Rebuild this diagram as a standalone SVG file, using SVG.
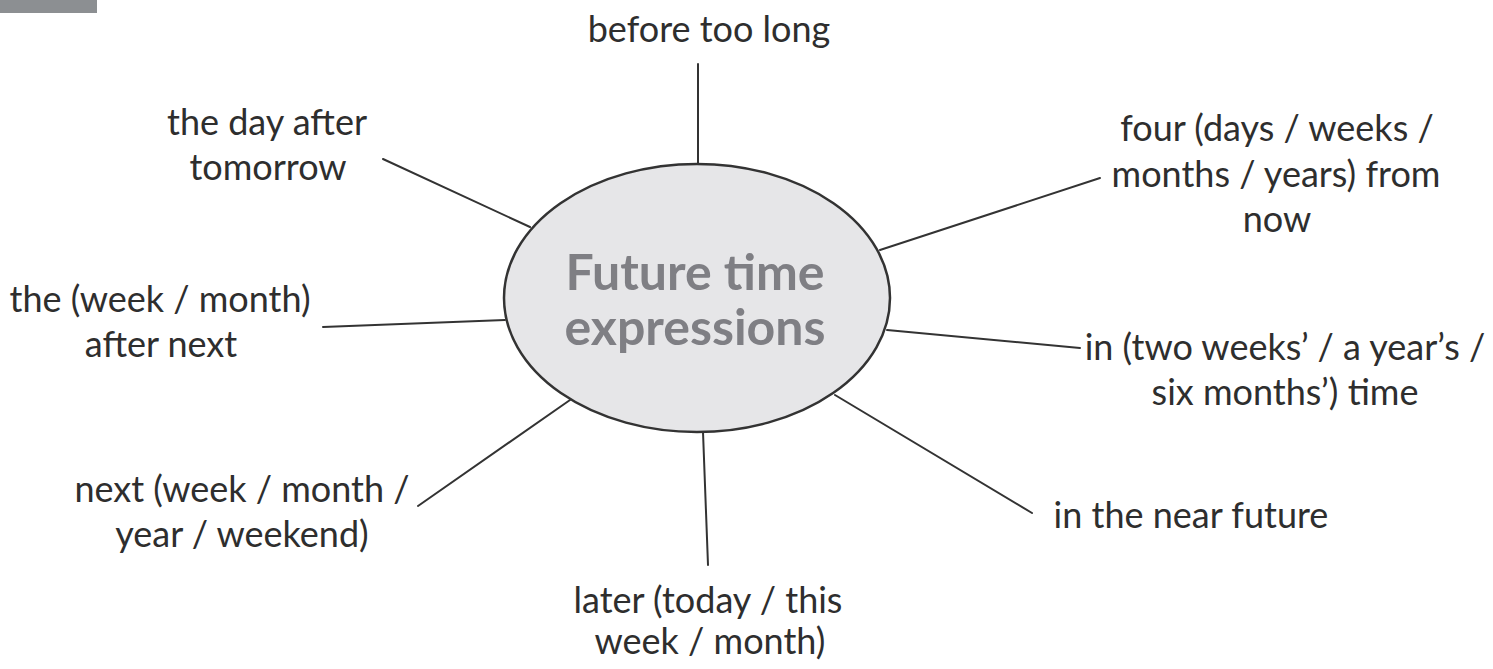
<svg xmlns="http://www.w3.org/2000/svg" width="1493" height="669" viewBox="0 0 1493 669">
<style>
.lbl{font-family:Lato,"Liberation Sans",sans-serif;font-size:36px;fill:#2e2e2e;text-anchor:middle}
.ctr{font-family:Lato,"Liberation Sans",sans-serif;font-size:50px;font-weight:bold;fill:#7f7f84;text-anchor:middle}
.con{stroke:#333;stroke-width:2;fill:none;stroke-linecap:round}
</style>
<rect width="1493" height="669" fill="#fff"/>
<rect x="0" y="0" width="97" height="13" fill="#8c8f92"/>
<g id="connectors">
<line class="con" x1="698" y1="64" x2="698" y2="164"/>
<line class="con" x1="383" y1="159" x2="530" y2="227"/>
<line class="con" x1="323" y1="327" x2="505" y2="320"/>
<line class="con" x1="418" y1="506" x2="570" y2="400"/>
<line class="con" x1="880" y1="250" x2="1100" y2="178"/>
<line class="con" x1="887" y1="330" x2="1080" y2="348"/>
<line class="con" x1="835" y1="395" x2="1032" y2="513"/>
<line class="con" x1="703" y1="432" x2="708" y2="565"/>
</g>
<g id="center">
<ellipse cx="697" cy="298" rx="193" ry="134" fill="#e6e6e8" stroke="#333" stroke-width="2.5"/>
<text class="ctr" x="695" y="290">Future time</text>
<text class="ctr" x="695" y="345">expressions</text>
</g>
<g id="n-before"><text class="lbl" x="709" y="42">before too long</text></g>
<g id="n-dayafter"><text class="lbl" x="267" y="135">the day after</text><text class="lbl" x="268" y="180">tomorrow</text></g>
<g id="n-afternext"><text class="lbl" x="160" y="312">the (week / month)</text><text class="lbl" x="161" y="357">after next</text></g>
<g id="n-next"><text class="lbl" x="242" y="502">next (week / month /</text><text class="lbl" x="242" y="547">year / weekend)</text></g>
<g id="n-later"><text class="lbl" x="708" y="613">later (today / this</text><text class="lbl" x="710" y="654">week / month)</text></g>
<g id="n-near"><text class="lbl" x="1191" y="528">in the near future</text></g>
<g id="n-intime"><text class="lbl" x="1285" y="360">in (two weeks’ / a year’s /</text><text class="lbl" x="1285" y="405">six months’) time</text></g>
<g id="n-four"><text class="lbl" x="1277" y="141">four (days / weeks /</text><text class="lbl" x="1276" y="187">months / years) from</text><text class="lbl" x="1277" y="232">now</text></g>
</svg>
